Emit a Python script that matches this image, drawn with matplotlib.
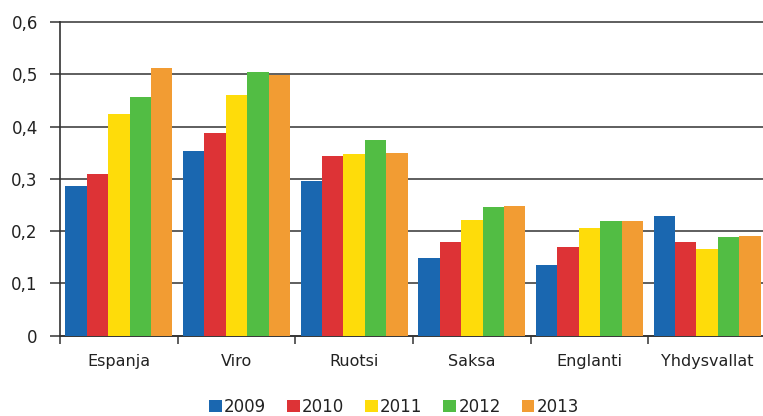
import matplotlib
matplotlib.use("Agg")
import matplotlib.pyplot as plt
import numpy as np

categories = ["Espanja", "Viro", "Ruotsi", "Saksa", "Englanti", "Yhdysvallat"]
years = ["2009", "2010", "2011", "2012", "2013"]
v2009 = [0.286, 0.354, 0.296, 0.148, 0.136, 0.228]
v2010 = [0.310, 0.387, 0.344, 0.179, 0.170, 0.179]
v2011 = [0.424, 0.460, 0.347, 0.222, 0.206, 0.166]
v2012 = [0.457, 0.504, 0.375, 0.246, 0.219, 0.188]
v2013 = [0.512, 0.498, 0.350, 0.249, 0.219, 0.191]
series = [v2009, v2010, v2011, v2012, v2013]
colors = ["#1A67B0", "#DD3336", "#FEDC0A", "#52BD44", "#F29C33"]
yticks = [0, 0.1, 0.2, 0.3, 0.4, 0.5, 0.6]
ytick_labels = ["0", "0,1", "0,2", "0,3", "0,4", "0,5", "0,6"]

plt.rcParams['font.family'] = ['DejaVu Sans']
fig = plt.figure(figsize=(7.63, 4.16), dpi=100)
W, H = 763, 416
ax = fig.add_axes([60 / W, (H - 335.7) / H, (766 - 60) / W, (335.7 - 22) / H])

n = len(years)
bw = 0.182
x = np.arange(len(categories))
for i, (vals, c, lab) in enumerate(zip(series, colors, years)):
    ax.bar(x + (i - (n - 1) / 2) * bw, vals, width=bw, color=c, label=lab,
           edgecolor='none', zorder=3)

ax.set_xlim(-0.5, len(categories) - 0.5)
ax.set_ylim(0, 0.6)
ax.set_yticks(yticks)
ax.set_yticklabels(ytick_labels)
ax.yaxis.grid(True, color='#333333', linewidth=1.1, zorder=0)
ax.set_axisbelow(True)
for gl in ax.get_ygridlines():
    gl.set_clip_on(False)

ax.set_xticks(x)
ax.set_xticklabels(categories)
ax.tick_params(axis='x', length=0, pad=13, labelsize=11.5, colors='#222222')
ax.set_xticks(np.arange(len(categories) + 1) - 0.5, minor=True)
ax.tick_params(axis='x', which='minor', length=6, width=1.1, color='#333333')
ax.tick_params(axis='y', length=7, width=1.1, color='#333333', pad=9,
               labelsize=12, labelcolor='#222222')

for s in ['top', 'right']:
    ax.spines[s].set_visible(False)
for s in ['left', 'bottom']:
    ax.spines[s].set_color('#333333')
    ax.spines[s].set_linewidth(1.2)

leg = fig.legend(loc='center', bbox_to_anchor=(394 / W, 1 - 407 / H), ncol=5,
                 frameon=False, fontsize=12, handlelength=0.75,
                 handleheight=0.75, handletextpad=0.15, columnspacing=1.25,
                 borderpad=0)
for t in leg.get_texts():
    t.set_color('#222222')

fig.savefig("out.png", dpi=100)
